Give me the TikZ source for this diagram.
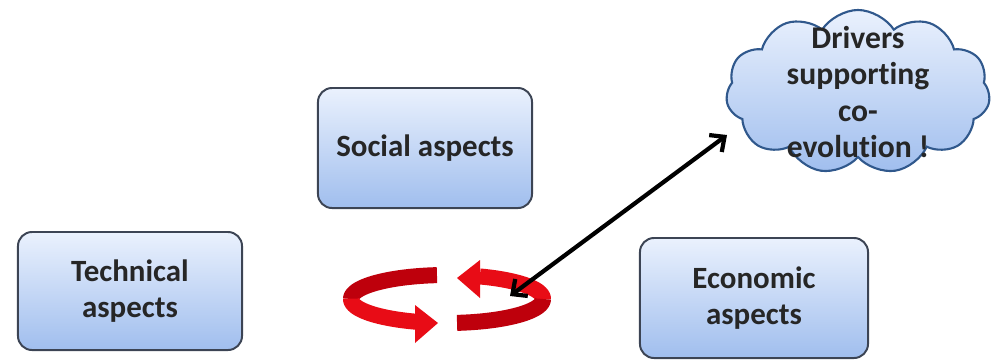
\documentclass[tikz,border=0pt]{standalone}
\usepackage{fontspec}
\setmainfont{Carlito}[Ligatures=NoCommon]
\usetikzlibrary{shapes.symbols,arrows.meta}
\definecolor{boxtop}{RGB}{234,241,253}
\definecolor{boxbot}{RGB}{160,190,238}
\definecolor{boxline}{RGB}{60,68,84}
\definecolor{cloudline}{RGB}{48,88,140}
\definecolor{ringred}{RGB}{232,12,22}
\definecolor{ringdark}{RGB}{190,0,12}
\tikzset{
  aspectbox/.style={draw=boxline, line width=1.4pt, rounded corners=10pt,
    top color=boxtop, bottom color=boxbot, align=center, text=black!85,
    font=\fontsize{22}{25}\selectfont\bfseries},
  drvcloud/.style={cloud, cloud puffs=11, cloud puff arc=115, cloud ignores aspect,
    draw=cloudline, line width=1.5pt, top color=boxtop, bottom color=boxbot,
    minimum width=6.6cm, minimum height=4.1cm, inner sep=0pt},
  drvtext/.style={align=center, text=black!85,
    font=\fontsize{22.5}{26}\selectfont\bfseries},
  ringpart/.style={line width=0.4cm, line cap=butt},
  linkarrow/.style={line width=3pt, {Straight Barb[length=8pt,width=15pt]}-{Straight Barb[length=8pt,width=15pt]}}
}
\begin{document}
\begin{tikzpicture}[x=0.025cm, y=-0.025cm]
\useasboundingbox (0,0) rectangle (996,362);

\node[aspectbox, minimum width=5.35cm, minimum height=3cm] (social) at (425,148) {Social aspects};
\node[aspectbox, minimum width=5.6cm, minimum height=2.95cm] (tech) at (130,291) {Technical\\aspects};
\node[aspectbox, minimum width=5.7cm, minimum height=3cm] (econ) at (754,298) {Economic\\aspects};

\node[drvcloud] (drv) at (858,92) {};
\node[drvtext] (drvlabel) at (858,92) {Drivers\\supporting\\co-\\evolution !};

% turning arrows
\draw[ringpart, ringdark] plot[domain=180:264, variable=\t, samples=40] ({447+96*cos(\t)},{299+24*sin(\t)});
\draw[ringpart, ringred] plot[domain=109:181, variable=\t, samples=40] ({447+96*cos(\t)},{299+24*sin(\t)});
\fill[ringred] (415,305) -- (415,343) -- (438,323) -- cycle;
\draw[ringpart, ringred] plot[domain=-70:1, variable=\t, samples=40] ({447+96*cos(\t)},{299+24*sin(\t)});
\draw[ringpart, ringdark] plot[domain=0:84, variable=\t, samples=40] ({447+96*cos(\t)},{299+24*sin(\t)});
\fill[ringred] (480,260) -- (480,298) -- (457,278) -- cycle;

\coordinate (ringend) at (510,296);
\coordinate (tip) at (727,135);
\draw[linkarrow] (ringend) -- (tip);
\end{tikzpicture}
\end{document}
